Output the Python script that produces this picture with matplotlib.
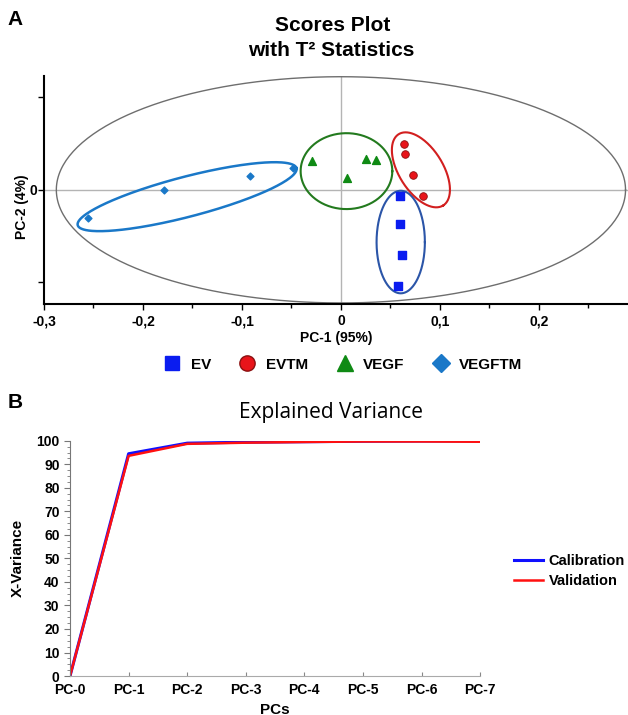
import numpy as np
import matplotlib
matplotlib.use("Agg")
import matplotlib.pyplot as plt
from matplotlib.lines import Line2D
from matplotlib.ticker import MultipleLocator, FixedLocator

plt.rcParams['font.family'] = ['Liberation Sans', 'DejaVu Sans']

# ---------------- Data: Scores plot ----------------
groups = ["EV", "EVTM", "VEGF", "VEGFTM"]
ev_pc1 = [0.0600, 0.0600, 0.0612, 0.0580]
ev_pc2 = [-0.0032, -0.0182, -0.0351, -0.0519]
evtm_pc1 = [0.0636, 0.0644, 0.0733, 0.0830]
evtm_pc2 = [0.0249, 0.0191, 0.0081, -0.0032]
vegf_pc1 = [-0.0297, 0.0253, 0.0350, 0.0059]
vegf_pc2 = [0.0158, 0.0166, 0.0161, 0.0066]
vegftm_pc1 = [-0.2556, -0.1790, -0.0920, -0.0485]
vegftm_pc2 = [-0.0151, 0.0000, 0.0076, 0.0119]

# group ellipses: center, half-axis vector 1, half-axis vector 2 (data units)
ell_ev = [(0.0604, -0.0282), (0.0244, 0.0), (0.0, 0.0277)]
ell_evtm = [(0.0808, 0.0108), (0.02248, -0.01925), (0.01884, 0.0063)]
ell_vegf = [(0.0056, 0.0101), (0.0463, 0.0), (0.0, 0.0205)]
ell_vegftm = [(-0.1554, -0.0037), (0.1105, 0.0154), (-0.00509, 0.01047)]
t2_ellipse = [(0.0, 0.0), (0.2875, 0.0), (0.0, 0.0611)]

x_ticks_a = [-0.3, -0.2, -0.1, 0.0, 0.1, 0.2]
x_ticklabels_a = ["-0,3", "-0,2", "-0,1", "0", "0,1", "0,2"]

# ---------------- Data: Explained variance ----------------
pcs = ["PC-0", "PC-1", "PC-2", "PC-3", "PC-4", "PC-5", "PC-6", "PC-7"]
calibration = [0, 94.5, 99.0, 99.4, 99.6, 99.8, 99.9, 99.95]
validation = [0, 93.6, 98.7, 99.2, 99.5, 99.7, 99.7, 99.6]

fig = plt.figure(figsize=(6.28, 7.15), dpi=100)

# ---------------- Panel A ----------------
axA = fig.add_axes([0.070, 0.575, 0.93, 0.319])
axA.set_xlim(-0.3, 0.29)
axA.set_ylim(-0.0616, 0.0616)
axA.axhline(0, color="#b4b4b4", lw=1.0, zorder=1)
axA.axvline(0, color="#b4b4b4", lw=1.0, zorder=1)

t = np.linspace(0, 2 * np.pi, 300)
def draw_ell(ax, e, color, lw):
    (cx, cy), (ax1, ay1), (bx1, by1) = e
    xs = cx + ax1 * np.cos(t) + bx1 * np.sin(t)
    ys = cy + ay1 * np.cos(t) + by1 * np.sin(t)
    ax.plot(xs, ys, color=color, lw=lw, zorder=2)

draw_ell(axA, t2_ellipse, "#6e6e6e", 1.0)
draw_ell(axA, ell_ev, "#2b55a8", 1.5)
draw_ell(axA, ell_evtm, "#d21f1f", 1.5)
draw_ell(axA, ell_vegf, "#237a1e", 1.5)
draw_ell(axA, ell_vegftm, "#1a78c8", 1.8)

axA.scatter(ev_pc1, ev_pc2, marker="s", s=30, color="#0a1cf0", zorder=3)
axA.scatter(evtm_pc1, evtm_pc2, marker="o", s=30, color="#e8141a",
            edgecolors="#8a1010", linewidths=0.6, zorder=3)
axA.scatter(vegf_pc1, vegf_pc2, marker="^", s=32, color="#0f8a14", zorder=3)
axA.scatter(vegftm_pc1, vegftm_pc2, marker="D", s=12, color="#1a78c8", zorder=3)

axA.spines['top'].set_visible(False)
axA.spines['right'].set_visible(False)
axA.spines['left'].set_linewidth(1.5)
axA.spines['bottom'].set_linewidth(1.5)
axA.xaxis.set_major_locator(FixedLocator(x_ticks_a))
axA.set_xticklabels(x_ticklabels_a, fontweight="bold", fontsize=10)
axA.xaxis.set_minor_locator(MultipleLocator(0.05))
axA.set_yticks([-0.05, 0.0, 0.05])
axA.set_yticklabels(["", "0", ""], fontweight="bold", fontsize=10)
axA.tick_params(axis="both", which="major", length=4, width=1)
axA.tick_params(axis="y", which="major", pad=1)
axA.tick_params(axis="x", which="minor", length=3, width=1)
axA.set_xlabel("PC-1 (95%)", fontweight="bold", fontsize=10, labelpad=2)
axA.set_ylabel("PC-2 (4%)", fontweight="bold", fontsize=10)
axA.yaxis.set_label_coords(-0.026, 0.425)

fig.text(0.530, 0.965, "Scores Plot", ha="center", va="center",
         fontsize=15, fontweight="bold")
fig.text(0.528, 0.930, "with T² Statistics", ha="center", va="center",
         fontsize=15, fontweight="bold")
fig.text(0.012, 0.973, "A", fontsize=15, fontweight="bold", va="center")

handles = [
    Line2D([], [], ls="none", marker="s", ms=10.5, color="#0a1cf0"),
    Line2D([], [], ls="none", marker="o", ms=11, color="#e8141a", mec="#8a1010"),
    Line2D([], [], ls="none", marker="^", ms=11, color="#0f8a14"),
    Line2D([], [], ls="none", marker="D", ms=9, color="#1a78c8"),
]
leg = fig.legend(handles, groups, loc="center", bbox_to_anchor=(0.547, 0.490),
                 ncol=4, frameon=False, handlelength=1.0, handletextpad=0.7,
                 columnspacing=1.9, prop={"weight": "bold", "size": 11})

# ---------------- Panel B ----------------
axB = fig.add_axes([0.1115, 0.0545, 0.653, 0.329])
xB = np.arange(len(pcs))
axB.plot(xB, calibration, color="#1010ff", lw=2.2, label="Calibration")
axB.plot(xB, validation, color="#ff1010", lw=1.8, label="Validation")
axB.set_xlim(0, len(pcs) - 1)
axB.set_ylim(0, 100)
axB.set_xticks(xB)
axB.set_xticklabels(pcs, fontweight="bold", fontsize=10)
axB.set_yticks(np.arange(0, 101, 10))
axB.set_yticklabels([str(v) for v in range(0, 101, 10)], fontweight="bold", fontsize=10)
axB.yaxis.set_minor_locator(MultipleLocator(2.5))
axB.spines['top'].set_visible(False)
axB.spines['right'].set_visible(False)
axB.spines['left'].set_color("#777777")
axB.spines['bottom'].set_color("#aaaaaa")
axB.tick_params(axis="y", which="major", length=4, color="#777777")
axB.tick_params(axis="y", which="minor", length=2.5, color="#777777")
axB.tick_params(axis="x", which="major", length=3, direction="in", color="#888888", pad=5)
axB.set_xlabel("PCs", fontweight="bold", fontsize=11, labelpad=4)
axB.set_ylabel("X-Variance", fontweight="bold", fontsize=11, labelpad=8)
fig.text(0.527, 0.423, "Explained Variance", ha="center", va="center",
         fontsize=15, family=["Open Sans", "DejaVu Sans"])
fig.text(0.012, 0.437, "B", fontsize=15, fontweight="bold", va="center")

axB.legend(loc="center left", bbox_to_anchor=(1.082, 0.446), frameon=False,
           borderpad=0.0, borderaxespad=0.0,
           handlelength=2.0, handletextpad=0.4, labelspacing=0.45,
           prop={"weight": "bold", "size": 10.5})

fig.savefig("out.png", dpi=100)
